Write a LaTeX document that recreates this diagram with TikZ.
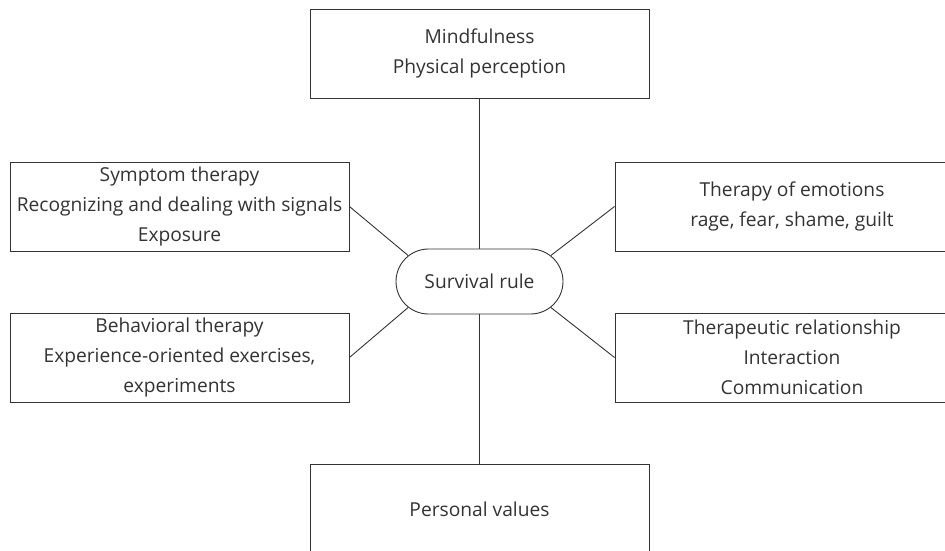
\documentclass[tikz,border=0pt]{standalone}
\usepackage{fontspec}
\setmainfont{Open Sans}
\usepackage{tikz}
\usetikzlibrary{shapes.misc, positioning}

\begin{document}
\begin{tikzpicture}[
    x=1pt, y=1pt,
    node distance=150pt,
    block/.style={
        rectangle,
        draw=black!80,
        line width=0.9pt,
        text=black!80,
        minimum width=339pt,
        minimum height=89pt,
        inner sep=0pt,
        align=center,
        font=\fontsize{19.2}{30}\selectfont
    },
    wideblock/.style={
        block,
        minimum width=354pt
    },
    core/.style={
        rounded rectangle,
        draw=black!80,
        line width=0.9pt,
        text=black!80,
        minimum width=167pt,
        minimum height=65pt,
        inner sep=0pt,
        font=\fontsize{19.2}{30}\selectfont
    },
    link/.style={draw=black!80, line width=0.9pt}
]
    \useasboundingbox (0,0) rectangle (945,-551);

    % Central rule with the surrounding therapy boxes
    \node [core] (rule) at (479.5,-281.5) {Survival rule};

    \node [block, above=of rule] (mind) {Mindfulness\\Physical perception};
    \node [block, below=of rule] (values) {Personal values};

    \node [block] (symptom) at (179.5,-206.5) {Symptom therapy\\Recognizing and dealing with signals\\Exposure};
    \node [block] (behavior) at (179.5,-357.5) {Behavioral therapy\\Experience-oriented exercises,\\experiments};

    \node [wideblock] (emotion) at (792,-206.5) {Therapy of emotions\\rage, fear, shame, guilt};
    \node [wideblock] (relation) at (792,-357.5) {Therapeutic relationship\\Interaction\\Communication};

    % Spokes from the rule
    \draw [link] (mind.south) -- (rule.north);
    \draw [link] (rule.south) -- (values.north);
    \draw [link] (symptom.east) -- (rule.160);
    \draw [link] (behavior.east) -- (rule.200);
    \draw [link] (emotion.west) -- (rule.20);
    \draw [link] (relation.west) -- (rule.-20);

\end{tikzpicture}
\end{document}
